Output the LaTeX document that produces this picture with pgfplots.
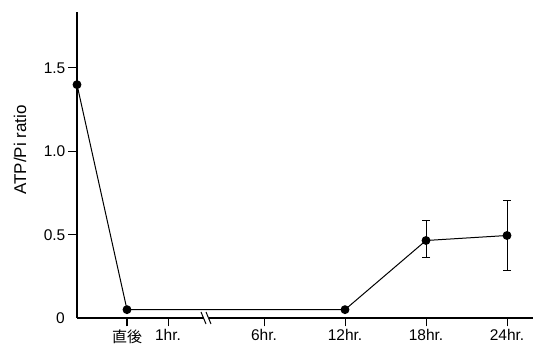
\documentclass[border=0pt]{standalone}
\usepackage{pgfplots}
\pgfplotsset{compat=1.18}
\usepackage{fontspec}
\setmainfont{Liberation Sans}
\newfontfamily\cjk{Noto Sans CJK JP}
\begin{document}
\begin{tikzpicture}[x=1pt,y=1pt]
\begin{axis}[
  at={(0,0)}, anchor=origin,
  scale only axis,
  width=456pt, height=306pt,
  xmin=77, xmax=533, ymin=0, ymax=1.836,
  axis lines=left,
  axis line style={-, line width=1.4pt},
  xtick={127,168,264,345,426,507},
  xticklabels={{\cjk\fontsize{15}{16}\selectfont 直後},1hr.,6hr.,12hr.,18hr.,24hr.},
  ytick={0.5,1.0,1.5},
  yticklabels={0.5,1.0,1.5},
  tick align=outside,
  major tick length=8.5pt,
  tick style={line width=1pt, black},
  ticklabel style={font=\fontsize{15.5}{17}\selectfont},
  /pgf/number format/assume math mode=true,
  xticklabel style={inner sep=2pt, yshift=-1pt},
  yticklabel style={inner sep=2pt, xshift=-1pt},
  ylabel={ATP/Pi ratio},
  ylabel style={font=\fontsize{17}{19}\selectfont, at={(axis description cs:-0.125,0.549)}, anchor=center},
  clip=false,
]
\addplot[black, line width=1pt, mark=*, mark size=3.9pt]
  coordinates {
    (77,1.40)
    (127,0.05)
    (345,0.05)
    (426,0.465)
    (507,0.495)
  };
\addplot[draw=none, mark=none, forget plot,
  error bars/.cd, y dir=both, y explicit, error bar style={line width=1pt, black}, error mark options={rotate=90, mark size=4pt, line width=1pt, black}]
  coordinates {
    (426,0.465) += (0,0.12) -= (0,0.10)
    (507,0.495) += (0,0.21) -= (0,0.21)
  };
\draw[white, line width=2.5pt] (axis cs:204,0) -- (axis cs:209,0);
\draw[black, line width=1pt] (axis cs:201,0.036) -- (axis cs:206,-0.036);
\draw[black, line width=1pt] (axis cs:206,0.036) -- (axis cs:211,-0.036);
\node[font=\fontsize{15.5}{17}\selectfont, anchor=east, inner sep=2pt] at (axis cs:67,0) {0};
\end{axis}
\pgfresetboundingbox
\useasboundingbox (-77,-27) rectangle (456,318);
\end{tikzpicture}
\end{document}
